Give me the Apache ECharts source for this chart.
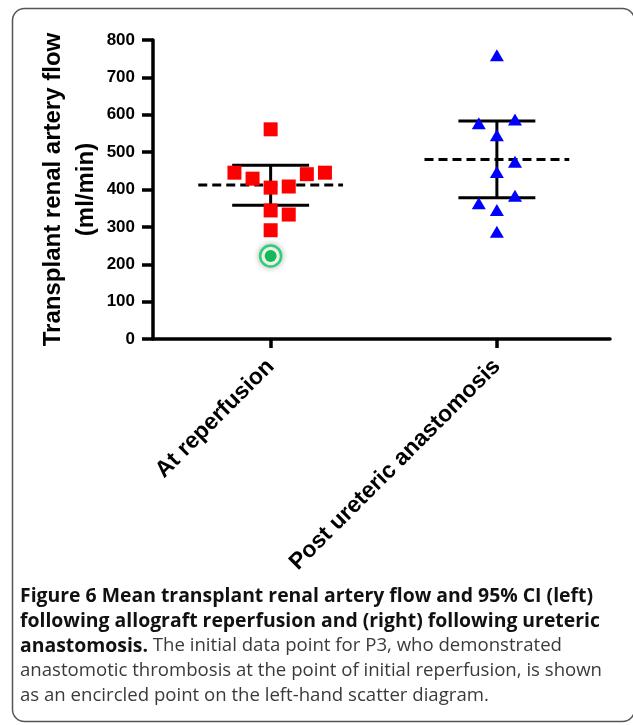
<!DOCTYPE html>
<html>
<head>
<meta charset="utf-8">
<script src="https://cdn.jsdelivr.net/npm/echarts@6/dist/echarts.min.js"></script>
<style>
  html, body { margin: 0; background: #fff; }
  #chart { width: 633px; height: 725px; }
</style>
</head>
<body>
<div id="chart"></div>
<script>
// groups on the x axis (1 = left, 2 = right)
var categories = ['At reperfusion', 'Post ureteric anastomosis'];

// flow values (ml/min)
var reperfusionFlow = [561, 445, 429, 441, 445, 405, 408, 344, 333, 291];
var reperfusionJitter = [0, -0.16, -0.08, 0.16, 0.24, 0, 0.08, 0, 0.08, 0];
var uretericFlow = [759, 577, 587, 545, 474, 447, 383, 363, 345, 287];
var uretericJitter = [0, -0.08, 0.08, 0, 0.08, 0, 0.08, -0.08, 0, 0];
var encircledFlow = [222]; // P3, thrombosis, left group

// mean and 95% CI per group
var meanFlow = [412, 480];
var ciLower = [358, 378];
var ciUpper = [465, 583];

var meanHalf = 0.32;
var capHalf = 0.17;
var boldFont = 'Liberation Sans';

var chart = echarts.init(document.getElementById('chart'));

function seg(data, dashed) {
  return {
    type: 'line',
    data: data,
    symbol: 'none',
    silent: true,
    animation: false,
    z: 1,
    lineStyle: { color: '#000', width: 3, type: dashed ? [9, 5] : 'solid' }
  };
}

var lineSeries = [];
meanFlow.forEach(function (m, i) {
  var c = i + 1;
  lineSeries.push(seg([[c - meanHalf, m], [c + meanHalf, m]], true));
  lineSeries.push(seg([[c - capHalf, ciUpper[i]], [c + capHalf, ciUpper[i]]]));
  lineSeries.push(seg([[c, ciUpper[i]], [c, ciLower[i]]]));
  lineSeries.push(seg([[c - capHalf, ciLower[i]], [c + capHalf, ciLower[i]]]));
});

// caption lines
var bold = { fontFamily: 'Open Sans', fontWeight: 'bold', fontSize: 19.4, fill: '#111' };
var normal = { fontFamily: 'Open Sans', fontSize: 18.6, fill: '#3a3a3a' };
function captionLine(y, text, rich) {
  return {
    type: 'text', x: 20, y: y, silent: true,
    style: { text: text, rich: rich, verticalAlign: 'middle', fontFamily: 'Open Sans', fontSize: 18.6 }
  };
}

var option = {
  backgroundColor: '#fff',
  animation: false,
  grid: { left: 153, right: 23, top: 40, bottom: 386, outerBoundsMode: 'none' },
  xAxis: {
    type: 'value',
    min: 0.48,
    max: 2.5,
    splitLine: { show: false },
    axisLine: { show: true, onZero: false, lineStyle: { color: '#000', width: 3.5 } },
    axisTick: { show: true, customValues: [1, 2], length: 9, lineStyle: { color: '#000', width: 3.5 } },
    axisLabel: {
      customValues: [1, 2],
      formatter: function (v) { return categories[Math.round(v) - 1]; },
      rotate: 45,
      margin: 24,
      color: '#000',
      fontFamily: boldFont,
      fontWeight: 'bold',
      fontSize: 23
    }
  },
  yAxis: {
    type: 'value',
    min: 0,
    max: 800,
    interval: 100,
    splitLine: { show: false },
    axisLine: { show: true, lineStyle: { color: '#000', width: 3.5 } },
    axisTick: { show: true, length: 11, lineStyle: { color: '#000', width: 3.5 } },
    axisLabel: { color: '#000', fontFamily: boldFont, fontWeight: 'bold', fontSize: 17, margin: 18 },
    name: 'Transplant renal artery flow\n(ml/min)',
    nameLocation: 'middle',
    nameRotate: 90,
    nameGap: 50,
    nameMoveOverlap: false,
    nameTextStyle: { color: '#000', fontFamily: boldFont, fontWeight: 'bold', fontSize: 24, lineHeight: 33 }
  },
  series: lineSeries.concat([
    {
      type: 'scatter',
      symbol: 'rect',
      symbolSize: 14,
      z: 3,
      itemStyle: { color: '#ff0000', opacity: 1 },
      data: reperfusionFlow.map(function (v, i) { return [1 + reperfusionJitter[i], v]; })
    },
    {
      type: 'scatter',
      symbol: 'triangle',
      symbolSize: [14, 12],
      z: 3,
      itemStyle: { color: '#0000ff', opacity: 1 },
      data: uretericFlow.map(function (v, i) { return [2 + uretericJitter[i], v]; })
    },
    {
      type: 'scatter',
      symbol: 'circle',
      symbolSize: 21,
      z: 3,
      itemStyle: { color: '#fff', opacity: 1, borderColor: '#2fcf72', borderWidth: 2.5, shadowBlur: 6, shadowColor: 'rgba(0,0,0,0.25)' },
      data: encircledFlow.map(function (v) { return [1, v]; })
    },
    {
      type: 'scatter',
      symbol: 'circle',
      symbolSize: 12,
      z: 4,
      itemStyle: { color: '#15b955', opacity: 1 },
      data: encircledFlow.map(function (v) { return [1, v]; })
    }
  ]),
  graphic: [
    {
      type: 'rect',
      silent: true,
      shape: { x: 12.5, y: 8.5, width: 622, height: 713, r: 12 },
      style: { fill: 'none', stroke: '#555', lineWidth: 1.5 }
    },
    captionLine(596, '{b|Figure 6 Mean transplant renal artery flow and 95% CI (left)}', { b: bold }),
    captionLine(621, '{b|following allograft reperfusion and (right) following ureteric}', { b: bold }),
    captionLine(646, '{b|anastomosis.} {n|The initial data point for P3, who demonstrated}', { b: bold, n: normal }),
    captionLine(671, '{n|anastomotic thrombosis at the point of initial reperfusion, is shown}', { n: normal }),
    captionLine(696, '{n|as an encircled point on the left-hand scatter diagram.}', { n: normal })
  ]
};

chart.setOption(option);
</script>
</body>
</html>
